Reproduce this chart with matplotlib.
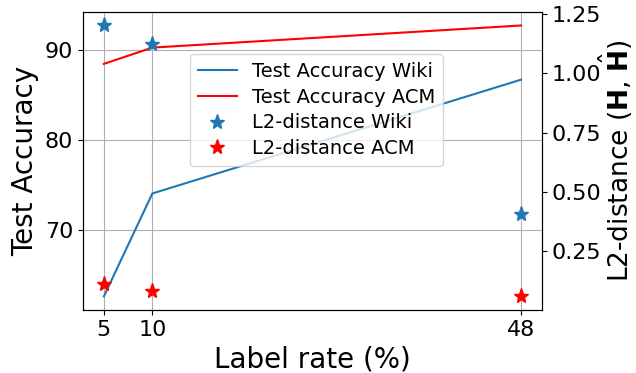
import matplotlib.pyplot as plt

label_rate = [5, 10, 48]
acc_wiki = [62.7, 74.1, 86.7]
acc_acm = [88.45, 90.25, 92.7]
l2_wiki = [1.20, 1.124, 0.408]
l2_acm = [0.112, 0.082, 0.061]

fig, ax = plt.subplots(figsize=(6.36, 3.73), dpi=100)
fig.subplots_adjust(left=0.1305, right=0.852, bottom=0.169, top=0.968)

l1, = ax.plot(label_rate, acc_wiki, color='tab:blue', label='Test Accuracy Wiki')
l2, = ax.plot(label_rate, acc_acm, color='red', label='Test Accuracy ACM')
ax.set_xticks(label_rate)
ax.grid(True)
ax.set_xlabel('Label rate (%)', fontsize=20)
ax.set_ylabel('Test Accuracy', fontsize=20)
ax.tick_params(labelsize=16)

ax2 = ax.twinx()
s1, = ax2.plot(label_rate, l2_wiki, '*', color='tab:blue', markersize=11, label='L2-distance Wiki')
s2, = ax2.plot(label_rate, l2_acm, '*', color='red', markersize=11, label='L2-distance ACM')
ax2.set_ylabel(r'L2-distance ($\mathbf{H}$, $\hat{\mathbf{H}}$)', fontsize=19, labelpad=-3)
ax2.tick_params(labelsize=16)

ax2.legend(handles=[l1, l2, s1, s2], loc='center', bbox_to_anchor=(0.509, 0.671),
           fontsize=14, labelspacing=0.35)

plt.savefig('out.png')
plt.close()
